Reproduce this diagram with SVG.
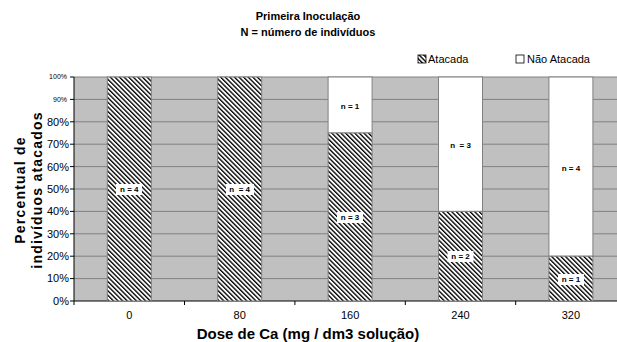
<svg xmlns="http://www.w3.org/2000/svg" width="617" height="342" viewBox="0 0 617 342">
<defs>
<pattern id="hatch" patternUnits="userSpaceOnUse" width="3.25" height="3.25" patternTransform="rotate(-45)">
<rect width="3.25" height="3.25" fill="#fff"/>
<rect x="0" y="0" width="1.35" height="3.25" fill="#000"/>
</pattern>
<style>
text{font-family:"Liberation Sans",Arial,sans-serif;fill:#000}
.title{font-size:11px;font-weight:bold;text-anchor:middle}
.tick{font-size:11px;text-anchor:end}
.tiny{font-size:7px;text-anchor:end}
.xl{font-size:11px;text-anchor:middle}
.axt{font-size:15px;font-weight:bold;text-anchor:middle}
.yt{font-size:14px;font-weight:bold;text-anchor:middle;letter-spacing:1.2px}
.lbl{font-size:8px;font-weight:bold;text-anchor:middle}
.grid{stroke:#808080;stroke-width:1}
.att{fill:url(#hatch);stroke:#808080;stroke-width:1}
.nat{fill:#fff;stroke:#808080;stroke-width:1}
.lb{fill:#fff}
.leg{font-size:11px}
</style>
</defs>
<rect width="617" height="342" fill="#fff"/>
<g id="title">
<text class="title" x="308" y="20">Primeira Inoculação</text>
<text class="title" x="308" y="36">N = número de indivíduos</text>
</g>
<g id="legend">
<rect x="418" y="55" width="8" height="8" fill="url(#hatch)" stroke="#000" stroke-width="0.8"/>
<text class="leg" x="428" y="63">Atacada</text>
<rect x="516" y="55" width="8" height="8" fill="#fff" stroke="#000" stroke-width="0.8"/>
<text class="leg" x="527" y="63">Não Atacada</text>
</g>
<g id="plot">
<rect x="74" y="77" width="543" height="224" fill="#c0c0c0"/>
<g class="grid">
<line x1="74" y1="77" x2="617" y2="77"/>
<line x1="74" y1="99.4" x2="617" y2="99.4"/>
<line x1="74" y1="121.8" x2="617" y2="121.8"/>
<line x1="74" y1="144.2" x2="617" y2="144.2"/>
<line x1="74" y1="166.6" x2="617" y2="166.6"/>
<line x1="74" y1="189" x2="617" y2="189"/>
<line x1="74" y1="211.4" x2="617" y2="211.4"/>
<line x1="74" y1="233.8" x2="617" y2="233.8"/>
<line x1="74" y1="256.2" x2="617" y2="256.2"/>
<line x1="74" y1="278.6" x2="617" y2="278.6"/>
</g>
</g>
<g id="axes" stroke="#000" stroke-width="1">
<line x1="74" y1="77" x2="74" y2="301"/>
<line x1="74" y1="301" x2="617" y2="301"/>
<line x1="70" y1="77" x2="74" y2="77"/>
<line x1="70" y1="99.4" x2="74" y2="99.4"/>
<line x1="70" y1="121.8" x2="74" y2="121.8"/>
<line x1="70" y1="144.2" x2="74" y2="144.2"/>
<line x1="70" y1="166.6" x2="74" y2="166.6"/>
<line x1="70" y1="189" x2="74" y2="189"/>
<line x1="70" y1="211.4" x2="74" y2="211.4"/>
<line x1="70" y1="233.8" x2="74" y2="233.8"/>
<line x1="70" y1="256.2" x2="74" y2="256.2"/>
<line x1="70" y1="278.6" x2="74" y2="278.6"/>
<line x1="70" y1="301" x2="74" y2="301"/>
<line x1="74" y1="301" x2="74" y2="305"/>
<line x1="184.5" y1="301" x2="184.5" y2="305"/>
<line x1="294.9" y1="301" x2="294.9" y2="305"/>
<line x1="405.3" y1="301" x2="405.3" y2="305"/>
<line x1="515.7" y1="301" x2="515.7" y2="305"/>
</g>
<g id="ylabels">
<text class="tiny" x="67" y="79">100%</text>
<text class="tiny" x="67" y="101.5">90%</text>
<text class="tick" x="69" y="125.5">80%</text>
<text class="tick" x="69" y="148">70%</text>
<text class="tick" x="69" y="170.5">60%</text>
<text class="tick" x="69" y="193">50%</text>
<text class="tick" x="69" y="215">40%</text>
<text class="tick" x="69" y="237.5">30%</text>
<text class="tick" x="69" y="260">20%</text>
<text class="tick" x="69" y="282">10%</text>
<text class="tick" x="69" y="305">0%</text>
</g>
<g id="ytitle">
<text class="yt" transform="translate(24.5,190) rotate(-90)">Percentual de</text>
<text class="yt" transform="translate(41.5,190) rotate(-90)">indivíduos atacados</text>
</g>
<g id="bar0">
<rect class="att" x="107.3" y="77" width="44" height="224"/>
<rect class="lb" x="116" y="184" width="26" height="11"/>
<text class="lbl" x="129.3" y="192">n = 4</text>
</g>
<g id="bar80">
<rect class="att" x="217.7" y="77" width="44" height="224"/>
<rect class="lb" x="226" y="184" width="28" height="11"/>
<text class="lbl" x="239.7" y="192" xml:space="preserve">n  = 4</text>
</g>
<g id="bar160">
<rect class="nat" x="328.1" y="77" width="44" height="56"/>
<rect class="att" x="328.1" y="133" width="44" height="168"/>
<text class="lbl" x="350.1" y="108.5">n = 1</text>
<rect class="lb" x="337" y="212" width="26" height="11"/>
<text class="lbl" x="350.1" y="220">n = 3</text>
</g>
<g id="bar240">
<rect class="nat" x="438.5" y="77" width="44" height="134.4"/>
<rect class="att" x="438.5" y="211.4" width="44" height="89.6"/>
<text class="lbl" x="460.5" y="147.5" xml:space="preserve">n  = 3</text>
<rect class="lb" x="447.5" y="251" width="26" height="11"/>
<text class="lbl" x="460.5" y="259">n = 2</text>
</g>
<g id="bar320">
<rect class="nat" x="548.9" y="77" width="44" height="179.2"/>
<rect class="att" x="548.9" y="256.2" width="44" height="44.8"/>
<text class="lbl" x="570.9" y="170.5">n = 4</text>
<rect class="lb" x="558" y="274" width="26" height="11"/>
<text class="lbl" x="570.9" y="282">n = 1</text>
</g>
<g id="xlabels">
<text class="xl" x="129.3" y="319">0</text>
<text class="xl" x="239.7" y="319">80</text>
<text class="xl" x="350.1" y="319">160</text>
<text class="xl" x="460.5" y="319">240</text>
<text class="xl" x="570.9" y="319">320</text>
</g>
<text class="axt" x="308" y="339">Dose de Ca (mg / dm3 solução)</text>
</svg>
